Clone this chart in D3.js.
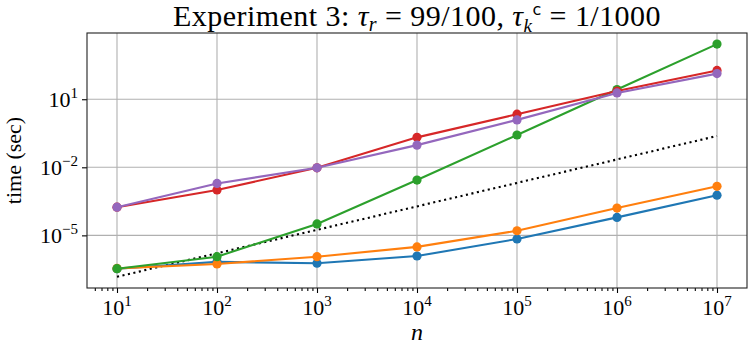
<!DOCTYPE html>
<html>
<head>
<meta charset="utf-8">
<script src="https://cdn.jsdelivr.net/npm/d3@7"></script>
<style>
  body { margin: 0; background: #fff; }
  svg { display: block; }
  text { font-family: "Liberation Serif", "DejaVu Serif", serif; fill: #000; }
</style>
</head>
<body>
<svg id="chart" width="750" height="350"></svg>
<script>
const W = 750, H = 350;
const MARGIN = { top: 33, right: 3, bottom: 62, left: 87 };

// problem sizes n
const nValues = [1e1, 1e2, 1e3, 1e4, 1e5, 1e6, 1e7];

// run times (sec), one array per method
const timeBlue   = [3.4e-7, 6.8e-7, 5.9e-7, 1.23e-6, 6.9e-6, 6.2e-5, 5.9e-4];
const timeOrange = [3.5e-7, 5.5e-7, 1.15e-6, 3.1e-6, 1.6e-5, 1.6e-4, 1.45e-3];
const timeGreen  = [3.4e-7, 1.15e-6, 3.2e-5, 2.75e-3, 0.266, 26.9, 2690];
const timeRed    = [1.74e-4, 1.0e-3, 9.5e-3, 0.209, 2.19, 22.9, 186];
const timePurple = [1.74e-4, 1.95e-3, 9.5e-3, 0.095, 1.23, 19, 135];

// dotted reference line (end points)
const refN    = [1e1, 1e7];
const refTime = [1.5e-7, 0.24];

// tick labels (exponents of 10)
const xTickExp = [1, 2, 3, 4, 5, 6, 7];
const yTickExp = [1, -2, -5];

const series = [
  { values: timeBlue,   color: '#1f77b4' },
  { values: timeOrange, color: '#ff7f0e' },
  { values: timeGreen,  color: '#2ca02c' },
  { values: timeRed,    color: '#d62728' },
  { values: timePurple, color: '#9467bd' },
];

const svg = d3.select('#chart');

const x = d3.scaleLog()
  .domain([Math.pow(10, 0.7), Math.pow(10, 7.3)])
  .range([MARGIN.left, W - MARGIN.right]);

const y = d3.scaleLog()
  .domain([Math.pow(10, -7.32), Math.pow(10, 3.92)])
  .range([H - MARGIN.bottom, MARGIN.top]);

const xMajor = xTickExp.map((e) => Math.pow(10, e));
const yMajor = yTickExp.map((e) => Math.pow(10, e));

// minor x ticks: 2..9 x 10^k inside the domain
let xMinor = [];
for (let k = 0; k <= 7; k++) {
  for (let m = 2; m <= 9; m++) {
    const v = m * Math.pow(10, k);
    if (v >= x.domain()[0] && v <= x.domain()[1]) xMinor.push(v);
  }
}

// grid
const grid = svg.append('g').attr('stroke', '#b0b0b0').attr('stroke-width', 1.1);
grid.selectAll('.gx').data(xMajor).join('line')
  .attr('x1', (d) => x(d)).attr('x2', (d) => x(d))
  .attr('y1', MARGIN.top).attr('y2', H - MARGIN.bottom);
grid.selectAll('.gy').data(yMajor).join('line')
  .attr('x1', MARGIN.left).attr('x2', W - MARGIN.right)
  .attr('y1', (d) => y(d)).attr('y2', (d) => y(d));

// axes (ticks only, labels drawn separately for superscripts)
svg.append('g')
  .attr('transform', `translate(0, ${H - MARGIN.bottom})`)
  .call(d3.axisBottom(x).tickValues(xMajor).tickFormat('').tickSize(5).tickSizeOuter(0));
svg.append('g')
  .attr('transform', `translate(0, ${H - MARGIN.bottom})`)
  .call(d3.axisBottom(x).tickValues(xMinor).tickFormat('').tickSize(3).tickSizeOuter(0));
svg.append('g')
  .attr('transform', `translate(${MARGIN.left}, 0)`)
  .call(d3.axisLeft(y).tickValues(yMajor).tickFormat('').tickSize(5).tickSizeOuter(0));
svg.selectAll('.tick line').attr('stroke', '#000').attr('stroke-width', 1.1);
svg.selectAll('.domain').remove();

// frame
svg.append('rect')
  .attr('x', MARGIN.left).attr('y', MARGIN.top)
  .attr('width', W - MARGIN.left - MARGIN.right)
  .attr('height', H - MARGIN.top - MARGIN.bottom)
  .attr('fill', 'none').attr('stroke', '#222').attr('stroke-width', 1.1);

// tick labels
const xl = svg.append('g').selectAll('text').data(xTickExp).join('text')
  .attr('x', (d) => x(Math.pow(10, d)))
  .attr('y', H - MARGIN.bottom + 27)
  .attr('text-anchor', 'middle')
  .style('font-size', '22px');
xl.append('tspan').text('10');
xl.append('tspan').attr('dy', -9).style('font-size', '15px').text((d) => d);

const yl = svg.append('g').selectAll('text').data(yTickExp).join('text')
  .attr('x', MARGIN.left - 9)
  .attr('y', (d) => y(Math.pow(10, d)) + 8)
  .attr('text-anchor', 'end')
  .style('font-size', '22px');
yl.append('tspan').text('10');
yl.append('tspan').attr('dy', -9).style('font-size', '15px')
  .text((d) => (d < 0 ? '\u2212' + Math.abs(d) : d));

// reference dotted line
const line = d3.line().x((d) => x(d[0])).y((d) => y(d[1]));
svg.append('path')
  .datum(refN.map((n, i) => [n, refTime[i]]))
  .attr('d', line)
  .attr('fill', 'none')
  .attr('stroke', '#000')
  .attr('stroke-width', 2.1)
  .attr('stroke-dasharray', '2.1,3.5');

// series
series.forEach((s) => {
  const pts = nValues.map((n, i) => [n, s.values[i]]);
  const g = svg.append('g');
  g.append('path')
    .datum(pts)
    .attr('d', line)
    .attr('fill', 'none')
    .attr('stroke', s.color)
    .attr('stroke-width', 2.1);
  g.selectAll('circle').data(pts).join('circle')
    .attr('cx', (d) => x(d[0]))
    .attr('cy', (d) => y(d[1]))
    .attr('r', 4.6)
    .attr('fill', s.color);
});

// title
const title = svg.append('text')
  .attr('x', (MARGIN.left + W - MARGIN.right) / 2)
  .attr('y', 26)
  .attr('text-anchor', 'middle')
  .style('font-size', '30px')
  .style('letter-spacing', '0.45px');
title.append('tspan').text('Experiment 3: ');
title.append('tspan').style('font-style', 'italic').text('\u03c4');
title.append('tspan').style('font-style', 'italic').style('font-size', '20px').attr('dy', 5).text('r');
title.append('tspan').attr('dy', -5).text(' = 99/100, ');
title.append('tspan').style('font-style', 'italic').text('\u03c4');
title.append('tspan').style('font-style', 'italic').style('font-size', '19px').attr('dy', 6).text('k');
title.append('tspan').style('font-family', '"DejaVu Sans", sans-serif').style('font-size', '16px').attr('dx', 0).attr('dy', -17).text('c');
title.append('tspan').attr('dy', 11).text(' = 1/1000');

// axis labels
svg.append('text')
  .attr('x', (MARGIN.left + W - MARGIN.right) / 2)
  .attr('y', 340)
  .attr('text-anchor', 'middle')
  .style('font-size', '24px')
  .style('font-style', 'italic')
  .text('n');

svg.append('text')
  .attr('transform', `translate(21, ${(MARGIN.top + H - MARGIN.bottom) / 2}) rotate(-90)`)
  .attr('text-anchor', 'middle')
  .style('font-size', '22px')
  .text('time (sec)');
</script>
</body>
</html>
